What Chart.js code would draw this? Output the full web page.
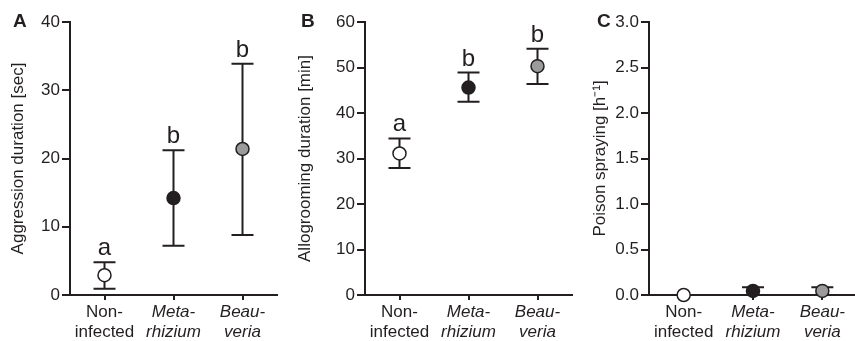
<!DOCTYPE html>
<html>
<head>
<meta charset="utf-8">
<title>Behaviour towards infected nestmates</title>
<script src="https://cdn.jsdelivr.net/npm/chart.js@4.4.1/dist/chart.umd.min.js"></script>
<style>
  html, body { margin: 0; padding: 0; background: #fff; width: 855px; height: 341px; overflow: hidden; }
  canvas { position: absolute; top: 0; }
</style>
</head>
<body>
<canvas id="chartA" width="285" height="341" style="left:0"></canvas>
<canvas id="chartB" width="295" height="341" style="left:285px"></canvas>
<canvas id="chartC" width="295" height="341" style="left:570px"></canvas>

<script>
// Categories (x axis)
const categories = [['Non-', 'infected'], ['Meta-', 'rhizium'], ['Beau-', 'veria']];
const pointColors = ['#ffffff', '#231f20', '#9b9b9b'];

// A - aggression duration [sec]
const aggressionMean = [2.9, 14.2, 21.4];
const aggressionUpper = [4.8, 21.2, 33.9];
const aggressionLower = [0.9, 7.2, 8.8];
const aggressionLetters = ['a', 'b', 'b'];
const aggressionTicks = [0, 10, 20, 30, 40];

// B - allogrooming duration [min]
const groomingMean = [31.1, 45.6, 50.3];
const groomingUpper = [34.4, 48.9, 54.1];
const groomingLower = [27.9, 42.5, 46.4];
const groomingLetters = ['a', 'b', 'b'];
const groomingTicks = [0, 10, 20, 30, 40, 50, 60];

// C - poison spraying [h-1]
const sprayMean = [0, 0.045, 0.045];
const sprayUpper = [0, 0.085, 0.085];
const sprayLower = [0, 0, 0];
const sprayLetters = [];
const sprayTicks = [0, 0.5, 1.0, 1.5, 2.0, 2.5, 3.0];

const ink = '#231f20';
const family = '"Liberation Sans", Arial, sans-serif';

// error bars + significance letters, drawn under the points
function errorBars(upper, lower, letters, tag, tagX) {
  return {
    id: 'errorBars',
    beforeDatasetsDraw(chart) {
      const ctx = chart.ctx;
      const x = chart.scales.x;
      const y = chart.scales.y;
      ctx.save();
      ctx.strokeStyle = ink;
      ctx.lineWidth = 2;
      upper.forEach((u, i) => {
        const lo = lower[i];
        if (u === lo) return;
        const px = x.getPixelForValue(i);
        const top = y.getPixelForValue(u);
        const bot = y.getPixelForValue(lo);
        ctx.beginPath();
        ctx.moveTo(px, top);
        ctx.lineTo(px, bot);
        ctx.moveTo(px - 11, top);
        ctx.lineTo(px + 11, top);
        ctx.moveTo(px - 11, bot);
        ctx.lineTo(px + 11, bot);
        ctx.stroke();
      });
      ctx.fillStyle = ink;
      ctx.font = '24px ' + family;
      ctx.textAlign = 'center';
      ctx.textBaseline = 'alphabetic';
      letters.forEach((l, i) => {
        ctx.fillText(l, x.getPixelForValue(i), y.getPixelForValue(upper[i]) - 7);
      });
      // panel tag
      ctx.font = 'bold 19px ' + family;
      ctx.textAlign = 'left';
      ctx.fillText(tag, tagX, 27);
      ctx.restore();
    }
  };
}

function makePanel(id, means, upper, lower, letters, yTicks, decimals, title, yWidth, padRight, titlePad, tag, tagX) {
  new Chart(document.getElementById(id), {
    type: 'line',
    data: {
      labels: categories,
      datasets: [{
        data: means,
        showLine: false,
        pointRadius: 6.5,
        pointHoverRadius: 6.5,
        pointBackgroundColor: pointColors,
        pointBorderColor: ink,
        pointBorderWidth: 1.5,
        clip: false
      }]
    },
    plugins: [errorBars(upper, lower, letters, tag, tagX)],
    options: {
      responsive: false,
      animation: false,
      events: [],
      layout: { padding: { top: 22, right: padRight, left: 0, bottom: 0 } },
      plugins: { legend: { display: false }, tooltip: { enabled: false } },
      scales: {
        x: {
          offset: true,
          grid: { drawOnChartArea: false, tickLength: 5, color: ink, lineWidth: 2 },
          border: { color: ink, width: 2 },
          ticks: {
            color: ink,
            padding: 2,
            maxRotation: 0,
            autoSkip: false,
            font: c => ({ family: family, size: 17, lineHeight: 1.2, style: c.index > 0 ? 'italic' : 'normal' })
          },
          afterFit: s => { s.height = 46; }
        },
        y: {
          min: yTicks[0],
          max: yTicks[yTicks.length - 1],
          afterBuildTicks: s => { s.ticks = yTicks.map(v => ({ value: v })); },
          grid: { drawOnChartArea: false, tickLength: 8, color: ink, lineWidth: 2 },
          border: { color: ink, width: 2 },
          ticks: {
            color: ink,
            padding: 2,
            font: { family: family, size: 17 },
            callback: v => Number(v).toFixed(decimals)
          },
          title: {
            display: true,
            text: title,
            color: ink,
            font: { family: family, size: 17 },
            padding: { top: titlePad, bottom: 0 }
          },
          afterFit: s => { s.width = yWidth; }
        }
      }
    }
  });
}

makePanel('chartA', aggressionMean, aggressionUpper, aggressionLower, aggressionLetters,
  aggressionTicks, 0, 'Aggression duration [sec]', 70, 4, 8, 'A', 13);
makePanel('chartB', groomingMean, groomingUpper, groomingLower, groomingLetters,
  groomingTicks, 0, 'Allogrooming duration [min]', 80, 4, 10, 'B', 16);
makePanel('chartC', sprayMean, sprayUpper, sprayLower, sprayLetters,
  sprayTicks, 1, 'Poison spraying [h\u207B\u00B9]', 79, 2, 20, 'C', 27);
</script>
</body>
</html>
